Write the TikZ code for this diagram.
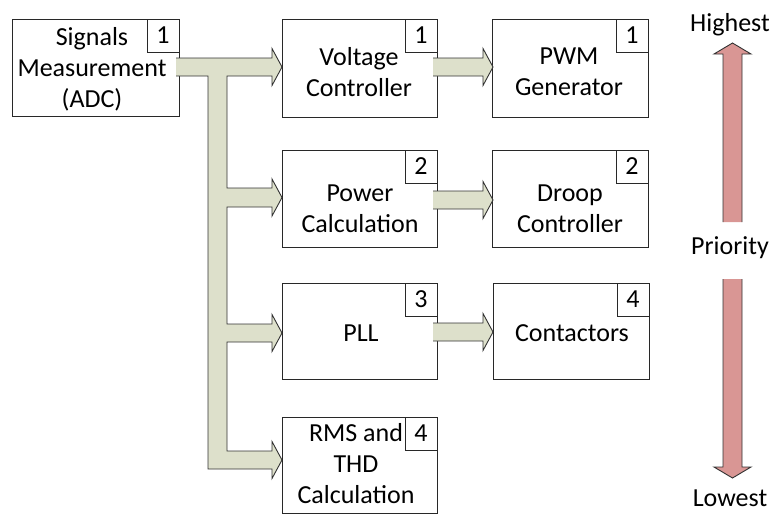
\documentclass[tikz,border=0pt]{standalone}
\usepackage{fontspec}
\setmainfont{Carlito}
\definecolor{boxc}{RGB}{40,40,40}
\definecolor{fatg}{RGB}{221,224,203}
\definecolor{arrc}{RGB}{50,50,50}
\definecolor{pinkc}{RGB}{217,150,148}
\newcommand{\boxfont}{\fontsize{26}{31}\selectfont}
\newcommand{\harrow}[3]{%
  \fill[fatg] (#1,#3-9) -- (#2-10,#3-9) -- (#2-10,#3-18.5) -- (#2,#3) -- (#2-10,#3+18.5) -- (#2-10,#3+9) -- (#1,#3+9) -- cycle;
  \draw[fatline] (#1,#3-9) -- (#2-10,#3-9) -- (#2-10,#3-18.5) -- (#2,#3) -- (#2-10,#3+18.5) -- (#2-10,#3+9) -- (#1,#3+9);}
\begin{document}
\begin{tikzpicture}[x=1pt,y=-1pt,
  blk/.style={draw=boxc, line width=1pt, fill=white, inner sep=0pt, outer sep=0pt},
  numbox/.style={draw=boxc, line width=1pt, fill=white, minimum width=32pt, minimum height=33pt, inner sep=0pt, outer sep=0pt, anchor=north east, font=\boxfont},
  lbl/.style={align=center, inner sep=0pt, font=\boxfont},
  fatline/.style={draw=arrc, line width=0.9pt, line join=miter},
  pinkline/.style={draw=arrc, line width=0.9pt, line join=miter},
]
\useasboundingbox (0,0) rectangle (777,515);

% boxes
\node[blk, minimum width=167pt, minimum height=97pt] (adc) at (95.5,67.5) {};
\node[blk, minimum width=155pt, minimum height=98pt] (volt) at (359.5,68) {};
\node[blk, minimum width=156pt, minimum height=98pt] (pwm) at (570,68) {};
\node[blk, minimum width=155pt, minimum height=97pt] (pow) at (359.5,198.5) {};
\node[blk, minimum width=156pt, minimum height=97pt] (droop) at (570,198.5) {};
\node[blk, minimum width=155pt, minimum height=96pt] (pll) at (359.5,331) {};
\node[blk, minimum width=156pt, minimum height=96pt] (cont) at (571,331) {};
\node[blk, minimum width=155pt, minimum height=96pt] (rms) at (359.5,465) {};

% texts
\node[lbl] (adct) at (92,69) {Signals\\Measurement\\(ADC)};
\node[lbl] (voltt) at (359,72) {Voltage\\Controller};
\node[lbl] (pwmt) at (569,72) {PWM\\Generator};
\node[lbl] (powt) at (360,209) {Power\\Calculation};
\node[lbl] (droopt) at (570,209) {Droop\\Controller};
\node[lbl] (pllt) at (361,333) {PLL};
\node[lbl] (contt) at (572,333) {Contactors};
\node[lbl] (rmst) at (356,464) {RMS and\\THD\\Calculation};

% number boxes
\node[numbox] (adcn) at (adc.north east) {1};
\node[numbox] (voltn) at (volt.north east) {1};
\node[numbox] (pwmn) at (pwm.north east) {1};
\node[numbox] (pown) at (pow.north east) {2};
\node[numbox] (droopn) at (droop.north east) {2};
\node[numbox] (plln) at (pll.north east) {3};
\node[numbox] (contn) at (cont.north east) {4};
\node[numbox] (rmsn) at (rms.north east) {4};

% main distribution arrow
\fill[fatg] (176,58) -- (272,58) -- (272,48.5) -- (282,67) -- (272,85.5) -- (272,76) -- (227,76)
  -- (227,188) -- (272,188) -- (272,179) -- (282,197.5) -- (272,216) -- (272,207) -- (227,207)
  -- (227,324) -- (272,324) -- (272,314.5) -- (282,333) -- (272,351.5) -- (272,342) -- (227,342)
  -- (227,451) -- (272,451) -- (272,441.5) -- (282,460) -- (272,478.5) -- (272,469)
  -- (208,469) -- (208,76) -- (176,76) -- cycle;
\draw[fatline] (176,58) -- (272,58) -- (272,48.5) -- (282,67) -- (272,85.5) -- (272,76) -- (227,76)
  -- (227,188) -- (272,188) -- (272,179) -- (282,197.5) -- (272,216) -- (272,207) -- (227,207)
  -- (227,324) -- (272,324) -- (272,314.5) -- (282,333) -- (272,351.5) -- (272,342) -- (227,342)
  -- (227,451) -- (272,451) -- (272,441.5) -- (282,460) -- (272,478.5) -- (272,469)
  -- (208,469) -- (208,76) -- (176,76);

% small arrows
\harrow{433}{493}{67}
\harrow{433}{493}{200}
\harrow{433}{493}{332}

% priority
\fill[pinkc] (723,222) -- (723,54) -- (714,54) -- (732.5,43) -- (751,54) -- (742,54) -- (742,222) -- cycle;
\draw[pinkline] (723,222) -- (723,54) -- (714,54) -- (732.5,43) -- (751,54) -- (742,54) -- (742,222);
\fill[pinkc] (723,279) -- (723,467) -- (714,467) -- (732.5,478) -- (751,467) -- (742,467) -- (742,279) -- cycle;
\draw[pinkline] (723,279) -- (723,467) -- (714,467) -- (732.5,478) -- (751,467) -- (742,467) -- (742,279);

\node[lbl, anchor=base] (high) at (730,31) {Highest};
\node[lbl, anchor=base] (prio) at (730,254) {Priority};
\node[lbl, anchor=base] (low) at (730,506) {Lowest};
\end{tikzpicture}
\end{document}
